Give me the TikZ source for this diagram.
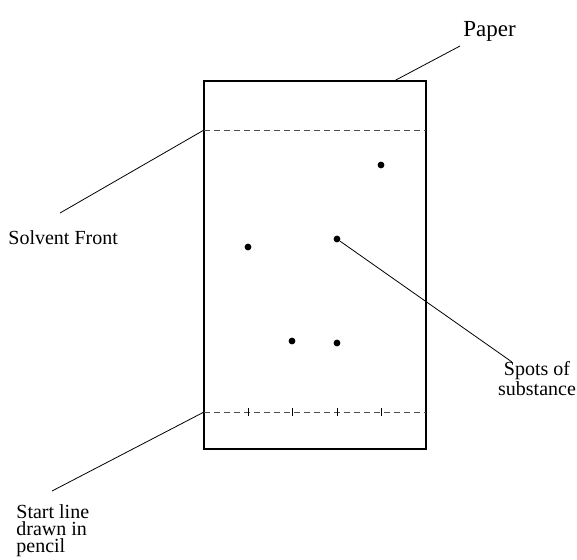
\documentclass[tikz,border=0pt]{standalone}
\usepackage{fontspec}
\setmainfont{Liberation Serif}
\usetikzlibrary{positioning}

\tikzset{
  label text/.style={font=\fontsize{10}{8.6}\selectfont,inner sep=0pt,align=left},
  spot/.style={circle,fill=black,inner sep=0pt,minimum size=3.4pt},
  leader/.style={draw,line width=0.4pt},
  front/.style={densely dashed,line width=0.3pt,black!70},
}

\begin{document}
\begin{tikzpicture}[x=0.5pt,y=-0.5pt]
  \useasboundingbox (0,0) rectangle (577,559);
  % the strip of paper
  \draw[line width=0.6pt] (204,81) rectangle (426,449);
  \coordinate (paperedge) at (394,81);
  % solvent front and start line
  \coordinate (frontL) at (204,130);
  \coordinate (frontR) at (426,130);
  \draw[front] (frontL) -- (frontR);
  \coordinate (startL) at (204,412);
  \coordinate (startR) at (426,412);
  \draw[front] (startL) -- (startR);
  \foreach \x in {248,292,337,381}
    \draw[line width=0.5pt] (\x,408) -- (\x,416);
  % spots
  \node[spot] (s1) at (381,165) {};
  \node[spot] (s2) at (248,247) {};
  \node[spot] (s3) at (337,239) {};
  \node[spot] (s4) at (292,341) {};
  \node[spot] (s5) at (337,343) {};
  % labels
  \node[label text,font=\fontsize{11.5}{12}\selectfont,anchor=west] (paper) at (463,31) {Paper};
  \node[label text,anchor=west] (solvent) at (8,238) {Solvent Front};
  \node[label text,font=\fontsize{10}{10}\selectfont,align=center,anchor=north] (spots) at (537,361) {Spots of\\substance};
  \node[label text,anchor=north west] (start) at (16,504) {Start line\\drawn in\\pencil};
  \coordinate (paperend) at (460,46);
  \coordinate (solventend) at (60,213);
  \coordinate (spotsend) at (512,362);
  \coordinate (startend) at (52,491);
  \path[leader] (paperedge) -- (paperend)
    (frontL) -- (solventend)
    (s3) -- (spotsend)
    (startL) -- (startend);
\end{tikzpicture}
\end{document}
